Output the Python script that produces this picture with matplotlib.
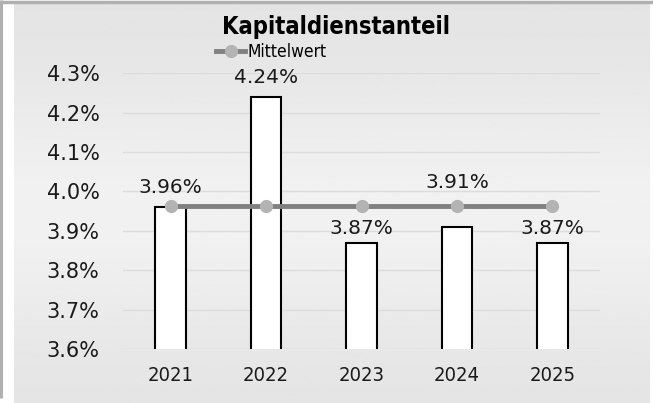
import numpy as np
import matplotlib
matplotlib.use("Agg")
import matplotlib.pyplot as plt
from matplotlib.lines import Line2D

# Kapitaldienstanteil per year (in %)
years = ["2021", "2022", "2023", "2024", "2025"]
anteil = [3.96, 4.24, 3.87, 3.91, 3.87]
mittelwert = [3.963, 3.963, 3.963, 3.963, 3.963]
y_ticks = [3.6, 3.7, 3.8, 3.9, 4.0, 4.1, 4.2, 4.3]

# label offsets above the bar tops (pixels)
label_offsets = [20, 19, 14, 44, 14]

W, H = 653, 403
fig = plt.figure(figsize=(W / 100, H / 100), dpi=100)
fig.patch.set_facecolor("white")

# chart background with a soft vertical gradient
bg = fig.add_axes([14 / W, 0, (650 - 14) / W, (H - 4) / H])
bg.set_axis_off()
rows = np.linspace(0, 1, 256)
shade = 0.89 + 0.055 * np.exp(-((rows - 0.52) / 0.32) ** 2)
grad = np.repeat(shade[:, None], 2, axis=1)
bg.imshow(grad, cmap="gray", vmin=0, vmax=1, aspect="auto", extent=[0, 1, 0, 1])

# outer frame lines (top and left)
frame = fig.add_axes([0, 0, 1, 1])
frame.set_axis_off()
frame.set_xlim(0, W)
frame.set_ylim(H, 0)
frame.plot([0, W], [1.5, 1.5], color="#b0b0b0", lw=2.5, solid_capstyle="butt")
frame.plot([1.2, 1.2], [0, 398], color="#b0b0b0", lw=2.2, solid_capstyle="butt")

ax = fig.add_axes([123 / W, (H - 349) / H, 477 / W, (349 - 73.3) / H])
ax.set_facecolor("none")
x = np.arange(len(years))

ax.bar(x, anteil, width=0.32, bottom=0, color="white", edgecolor="black",
       linewidth=1.5, zorder=3)
ax.plot(x, mittelwert, color="#808080", lw=3.5, marker="o", markersize=8.5,
        markerfacecolor="#b3b3b3", markeredgecolor="#b3b3b3", zorder=4)

for i, v in enumerate(anteil):
    ax.annotate(f"{v:.2f}%", (x[i], v), xytext=(0, label_offsets[i]),
                textcoords="offset pixels", ha="center", va="center",
                fontsize=14.5, color="#1a1a1a", zorder=5)

ax.set_xlim(-0.5, len(years) - 0.5)
ax.set_ylim(3.6, 4.3)
ax.set_yticks(y_ticks)
ax.set_yticklabels([f"{t:.1f}%" for t in y_ticks], fontsize=15, color="#1a1a1a")
ax.set_xticks(x)
ax.set_xticklabels(years, fontsize=14.5, fontstretch="condensed", color="#1a1a1a")
ax.tick_params(axis="y", length=0, pad=17)
ax.tick_params(axis="x", length=0, pad=12)
ax.grid(axis="y", color="#dcdcdc", lw=1, zorder=0)
ax.set_axisbelow(True)
for s in ax.spines.values():
    s.set_visible(False)

fig.text(336 / W, 1 - 27 / H, "Kapitaldienstanteil", ha="center", va="center",
         fontsize=17, fontweight="bold", fontstretch="condensed")

handle = Line2D([], [], color="#808080", lw=3.5, marker="o", markersize=8.5,
                markerfacecolor="#b3b3b3", markeredgecolor="#b3b3b3")
fig.legend([handle], ["Mittelwert"], loc="center", bbox_to_anchor=(271 / W, 1 - 52 / H),
           frameon=False, handlelength=1.7, handletextpad=0.1,
           prop={"size": 12.5, "stretch": "condensed"})

fig.savefig("out.png", dpi=100)
